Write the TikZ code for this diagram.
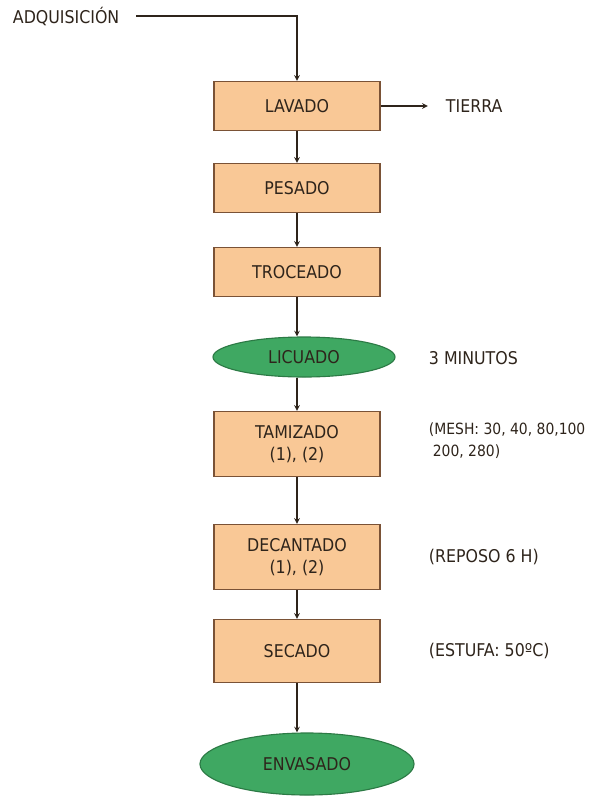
\documentclass[tikz,border=0pt]{standalone}
\usepackage{fontspec}
\setmainfont{DejaVu Sans Condensed}
\usetikzlibrary{shapes.geometric, arrows, positioning}
\definecolor{durazno}{HTML}{F9C896}
\definecolor{cafe}{HTML}{7A5236}
\definecolor{verde}{HTML}{3FA862}
\definecolor{verdeosc}{HTML}{2C7A45}
\definecolor{tinta}{HTML}{2E241B}
\tikzset{
  etapa/.style={rectangle, minimum width=4.15cm, minimum height=1.23cm,
                text centered, draw=cafe, fill=durazno, align=center, text=tinta,
                font=\fontsize{12.5}{16}\selectfont, line width=0.8pt},
  etapav/.style={ellipse, minimum width=4.55cm, minimum height=1.0cm,
                 text centered, draw=verdeosc, fill=verde, text=tinta,
                 font=\fontsize{12.5}{16}\selectfont, line width=0.8pt},
  nota/.style={anchor=west, align=left, text=tinta, font=\fontsize{12.5}{16}\selectfont},
  arrow/.style={thick,->,>=stealth,color=tinta}
}
\begin{document}
\begin{tikzpicture}[x=0.025cm, y=-0.025cm]
  \useasboundingbox (0,0) rectangle (602,796);
  \node (adq) [nota] at (8,16) {ADQUISICIÓN};
  \node (lavado) [etapa] at (297,106) {LAVADO};
  \node (tierra) [nota] at (441,106) {TIERRA};
  \node (pesado) [etapa] at (297,188) {PESADO};
  \node (troceado) [etapa] at (297,272) {TROCEADO};
  \node (licuado) [etapav] at (304,357) {LICUADO};
  \node (tamizado) [etapa, minimum height=1.63cm] at (297,444) {TAMIZADO\\(1), (2)};
  \node (decantado) [etapa, minimum height=1.63cm] at (297,557) {DECANTADO\\(1), (2)};
  \node (secado) [etapa, minimum height=1.58cm] at (297,651) {SECADO};
  \node (envasado) [etapav, minimum width=5.35cm, minimum height=1.55cm] at (307,764) {ENVASADO};
  \node (n1) [nota] at (424,358) {3 MINUTOS};
  \node (n2) [nota, font=\fontsize{11}{15.5}\selectfont] at (424,441) {(MESH: 30, 40, 80,100\\\hspace{0.25em}200, 280)};
  \node (n3) [nota] at (424,557) {(REPOSO 6 H)};
  \node (n4) [nota] at (424,651) {(ESTUFA: 50ºC)};
  \draw [arrow, shorten <=0.3cm] (adq.east) -| (lavado.north);
  \draw [arrow, shorten >=0.33cm] (lavado.east) -- (tierra.west);
  \draw [arrow] (lavado) -- (pesado); \draw [arrow] (pesado) -- (troceado);
  \draw [arrow] (troceado) -- (licuado.north -| troceado.south);
  \draw [arrow] (licuado.south -| tamizado.north) -- (tamizado);
  \draw [arrow] (tamizado) -- (decantado); \draw [arrow] (decantado) -- (secado);
  \draw [arrow] (secado.south) -- (envasado.north -| secado.south);
\end{tikzpicture}
\end{document}
